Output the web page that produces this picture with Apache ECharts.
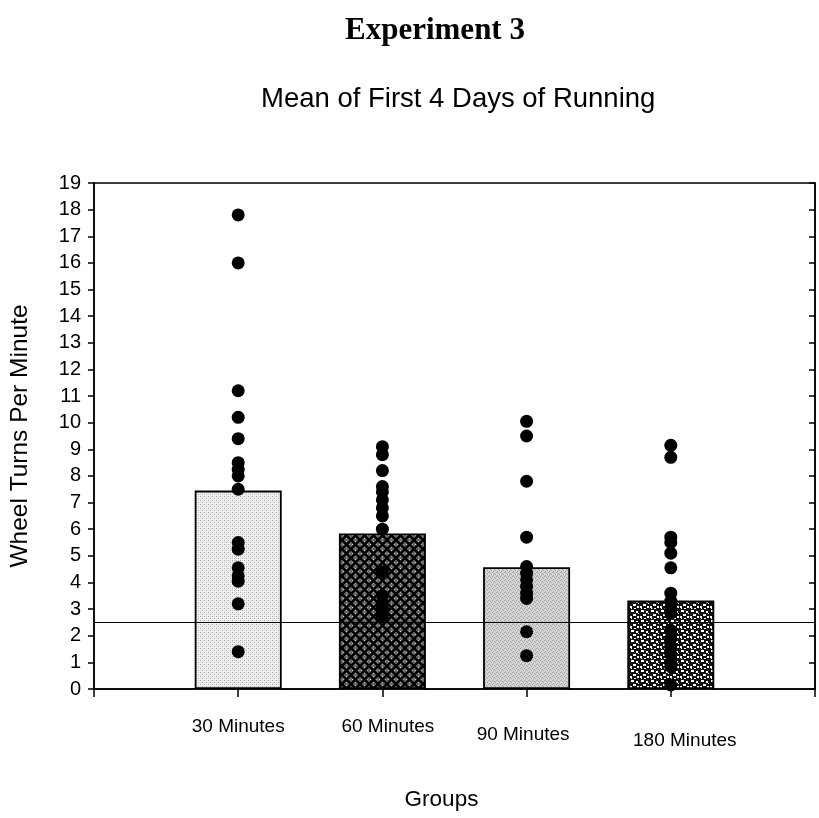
<!DOCTYPE html>
<html>
<head>
<meta charset="utf-8">
<script src="https://cdn.jsdelivr.net/npm/echarts@6/dist/echarts.min.js"></script>
<style>
  html, body { margin: 0; padding: 0; background: #fff; }
  #chart { width: 819px; height: 818px; }
</style>
</head>
<body>
<div id="chart"></div>
<script>
// Group labels along the x axis (positions 1..4)
var groups = ['30 Minutes', '60 Minutes', '90 Minutes', '180 Minutes'];

// Group means (bar heights)
var groupMeans = [7.45, 5.84, 4.57, 3.32];

// Individual animals per group
var points30 = [17.8, 16.0, 11.2, 10.2, 9.4, 8.5, 8.25, 8.0, 7.5, 5.5, 5.25, 4.55, 4.25, 4.05, 3.2, 1.4];
var points60 = [9.1, 8.8, 8.2, 7.6, 7.4, 7.1, 6.8, 6.5, 6.0, 4.4, 3.5, 3.2, 3.0, 2.75];
var points90 = [10.05, 9.5, 7.8, 5.7, 4.6, 4.35, 4.1, 3.85, 3.6, 3.4, 2.15, 1.25];
var points180 = [9.15, 8.7, 5.7, 5.5, 5.1, 4.55, 3.6, 3.3, 3.05, 2.85, 2.2, 1.9, 1.6, 1.3, 1.0, 0.85, 0.15];

// Criterion line
var criterion = 2.5;

// Y axis ticks
var yMin = 0, yMax = 19, yStep = 1;

// ---- fill patterns for the bars ----
function makeCanvas(w, h, draw) {
  var c = document.createElement('canvas');
  c.width = w; c.height = h;
  draw(c.getContext('2d'));
  return c;
}
// fine light stipple
var stippleLight = makeCanvas(4, 4, function (g) {
  g.fillStyle = '#f2f2f2'; g.fillRect(0, 0, 4, 4);
  g.fillStyle = '#a8a8a8'; g.fillRect(0, 0, 1, 1); g.fillRect(2, 2, 1, 1);
  g.fillStyle = '#d0d0d0'; g.fillRect(2, 0, 1, 1); g.fillRect(0, 2, 1, 1);
});
// diagonal crosshatch on dark grey
var crossHatch = makeCanvas(9, 9, function (g) {
  g.fillStyle = '#6a6a6a'; g.fillRect(0, 0, 9, 9);
  g.strokeStyle = '#000'; g.lineWidth = 2.4;
  g.beginPath();
  g.moveTo(-1, -1); g.lineTo(10, 10);
  g.moveTo(10, -1); g.lineTo(-1, 10);
  g.stroke();
  g.fillStyle = '#c8c8c8'; g.fillRect(4, 1, 1, 1); g.fillRect(1, 4, 1, 1);
  g.fillStyle = '#a0a0a0'; g.fillRect(7, 4, 1, 1); g.fillRect(4, 7, 1, 1);
});
// medium stipple
var stippleMid = makeCanvas(4, 4, function (g) {
  g.fillStyle = '#d2d2d2'; g.fillRect(0, 0, 4, 4);
  g.fillStyle = '#a0a0a0'; g.fillRect(0, 0, 1, 1); g.fillRect(2, 1, 1, 1); g.fillRect(1, 3, 1, 1); g.fillRect(3, 2, 1, 1);
  g.fillStyle = '#e6e6e6'; g.fillRect(2, 3, 1, 1); g.fillRect(0, 2, 1, 1);
});
// black ground with white flecks
var flecks = makeCanvas(10, 10, function (g) {
  g.fillStyle = '#111'; g.fillRect(0, 0, 10, 10);
  g.fillStyle = '#fff';
  g.fillRect(1, 0, 3, 2); g.fillRect(6, 1, 2, 2); g.fillRect(8, 3, 1, 1);
  g.fillRect(3, 4, 3, 2); g.fillRect(0, 6, 2, 2); g.fillRect(1, 8, 1, 1);
  g.fillRect(7, 6, 2, 2); g.fillRect(4, 8, 2, 1);
});
var patterns = [stippleLight, crossHatch, stippleMid, flecks];

var barData = groupMeans.map(function (v, i) {
  return {
    value: [i + 1, v],
    itemStyle: { color: { image: patterns[i], repeat: 'repeat' } }
  };
});

var pointData = [];
[points30, points60, points90, points180].forEach(function (arr, i) {
  arr.forEach(function (v) { pointData.push([i + 1, v]); });
});

// per-label vertical/horizontal nudges for the group names
var labelRich = {
  g1: { padding: [0, 0, 0, 0] },
  g2: { padding: [0, 0, 0, 11] },
  g3: { padding: [8, 7, 0, 0] },
  g4: { padding: [14, 0, 0, 28] }
};

var font = 'Liberation Sans, Arial, sans-serif';

var chart = echarts.init(document.getElementById('chart'), null, { renderer: 'canvas' });
chart.setOption({
  animation: false,
  backgroundColor: '#fff',
  title: [
    {
      text: 'Experiment 3',
      left: 340, top: 10,
      textStyle: { fontFamily: 'Liberation Serif, Times New Roman, serif', fontWeight: 'bold', fontSize: 31, color: '#000' }
    },
    {
      text: 'Mean of First 4 Days of Running',
      left: 256, top: 80,
      textStyle: { fontFamily: font, fontWeight: 'normal', fontSize: 27.5, color: '#000' }
    }
  ],
  grid: {
    left: 94, right: 4, top: 183, bottom: 129,
    show: true, borderColor: '#000', borderWidth: 1.5, backgroundColor: 'transparent'
  },
  xAxis: {
    type: 'value',
    min: 0, max: 5, interval: 1,
    splitLine: { show: false },
    axisLine: { show: true, lineStyle: { color: '#000', width: 1.5 } },
    axisTick: { show: true, length: 8, lineStyle: { color: '#000', width: 1.5 } },
    axisLabel: {
      margin: 28,
      fontFamily: font, fontSize: 19, color: '#000',
      formatter: function (v) {
        var i = Math.round(v);
        if (i < 1 || i > groups.length) return '';
        return '{g' + i + '|' + groups[i - 1] + '}';
      },
      rich: labelRich
    },
    name: 'Groups',
    nameLocation: 'middle',
    nameGap: 99,
    nameTextStyle: { fontFamily: font, fontSize: 22.5, color: '#000', padding: [0, 26, 0, 0] }
  },
  yAxis: [
    {
      type: 'value',
      min: yMin, max: yMax, interval: yStep,
      splitLine: { show: false },
      axisLine: { show: true, lineStyle: { color: '#000', width: 1.5 } },
      axisTick: { show: true, length: 6, lineStyle: { color: '#000', width: 1.5 } },
      axisLabel: { margin: 13, fontFamily: font, fontSize: 20, color: '#000' },
      name: 'Wheel Turns Per Minute',
      nameLocation: 'middle',
      nameRotate: 90,
      nameGap: 61,
      nameTextStyle: { fontFamily: font, fontSize: 24.5, color: '#000' }
    },
    {
      type: 'value',
      position: 'right',
      min: yMin, max: yMax, interval: yStep,
      splitLine: { show: false },
      axisLine: { show: true, lineStyle: { color: '#000', width: 1.5 } },
      axisTick: { show: true, inside: true, length: 6, lineStyle: { color: '#000', width: 1.5 } },
      axisLabel: { show: false }
    }
  ],
  series: [
    {
      type: 'bar',
      barWidth: 87,
      data: barData,
      itemStyle: { borderColor: '#000', borderWidth: 1.8 },
      markLine: {
        silent: true,
        symbol: 'none',
        label: { show: false },
        lineStyle: { color: '#000', width: 1.2, type: 'solid' },
        data: [{ yAxis: criterion }]
      },
      z: 2
    },
    {
      type: 'scatter',
      data: pointData,
      symbol: 'circle',
      symbolSize: 13,
      itemStyle: { color: '#000', opacity: 1 },
      z: 5
    }
  ]
});
</script>
</body>
</html>
